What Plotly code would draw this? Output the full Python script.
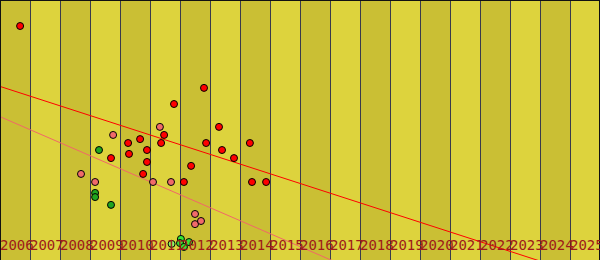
import numpy as np
import plotly.graph_objects as go

years = list(range(2006, 2026))
year_labels = [str(y) for y in years]

red_x = [2006.67, 2012.80, 2011.80, 2013.30, 2011.47, 2010.67, 2010.27, 2011.37, 2012.87, 2014.33,
         2010.90, 2010.30, 2009.70, 2013.40, 2013.80, 2010.90, 2012.37, 2010.77, 2012.13, 2014.40, 2014.87]
red_y = [90.0, 66.2, 60.0, 51.2, 48.1, 46.5, 45.0, 45.0, 45.0, 45.0,
         42.3, 40.8, 39.2, 42.3, 39.2, 37.7, 36.2, 33.1, 30.0, 30.0, 30.0]

pink_x = [2011.33, 2009.77, 2008.70, 2009.17, 2011.10, 2011.70, 2012.50, 2012.50, 2012.70]
pink_y = [51.2, 48.1, 33.1, 30.0, 30.0, 30.0, 17.7, 13.8, 15.0]

green_x = [2009.30, 2009.17, 2009.17, 2009.70]
green_y = [42.3, 25.8, 24.2, 21.2]

bright_x = [2012.03, 2012.00, 2012.30, 2012.13]
bright_y = [8.1, 6.5, 6.9, 5.0]

light_x = [2011.72]
light_y = [6.2]

X0, X1 = 2006, 2026
DARK_BAND = "#CABF34"
LIGHT_BAND = "#DDD33D"

fig = go.Figure()

def fit_line(xs, ys):
    m, b = np.polyfit(xs, ys, 1)
    xx = np.array([X0, X1], dtype=float)
    return xx, m * xx + b

rx, ry = fit_line(red_x, red_y)
px_, py_ = fit_line(pink_x, pink_y)
fig.add_trace(go.Scatter(x=rx, y=ry, mode="lines", line=dict(color="#ff0000", width=1), hoverinfo="skip"))
fig.add_trace(go.Scatter(x=px_, y=py_, mode="lines", line=dict(color="#f26868", width=1), hoverinfo="skip"))

def pts(xs, ys, color):
    fig.add_trace(go.Scatter(x=xs, y=ys, mode="markers",
                             marker=dict(size=7, color=color, line=dict(color="#000000", width=1))))

pts(red_x, red_y, "#ff0000")
pts(pink_x, pink_y, "#f06a6a")
pts(green_x, green_y, "#1fa51f")
pts(bright_x, bright_y, "#33e633")
pts(light_x, light_y, "#8cf560")

shapes = []
for i, y in enumerate(years):
    if i % 2 == 0:
        shapes.append(dict(type="rect", xref="x", yref="paper", x0=y, x1=y + 1, y0=0, y1=1,
                           fillcolor=DARK_BAND, line=dict(width=0), layer="below"))
for (x0, y0, x1, y1) in [(0, 1, 1, 1), (0, 0, 0, 1), (1, 0, 1, 1)]:
    shapes.append(dict(type="line", xref="paper", yref="paper", x0=x0, y0=y0, x1=x1, y1=y1,
                       line=dict(color="#111111", width=2), layer="above"))

annotations = []
for y, lab in zip(years, year_labels):
    annotations.append(dict(x=y, xref="x", y=15 / 260, yref="paper", text=lab, showarrow=False,
                            xanchor="left", yanchor="middle", xshift=-2,
                            font=dict(family="DejaVu Sans Mono", size=14, color="#9e1a1a")))

fig.update_layout(
    width=600, height=260, margin=dict(l=0, r=0, t=0, b=0),
    plot_bgcolor=LIGHT_BAND, paper_bgcolor=LIGHT_BAND,
    showlegend=False, shapes=shapes, annotations=annotations,
    xaxis=dict(range=[X0, X1], tick0=2006, dtick=1, showgrid=True, gridcolor="#3a3a4c", gridwidth=1,
               showticklabels=False, ticks="", zeroline=False, showline=False, fixedrange=True),
    yaxis=dict(range=[0, 100], showgrid=False, showticklabels=False, ticks="", zeroline=False,
               showline=False, fixedrange=True),
)

fig.write_html("out.html")
